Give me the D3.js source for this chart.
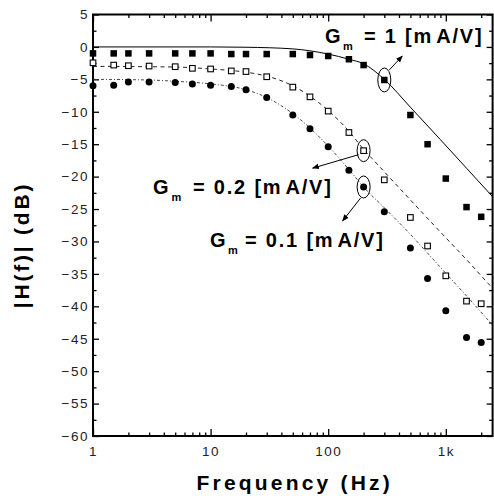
<!DOCTYPE html>
<html><head><meta charset="utf-8">
<script src="https://cdn.jsdelivr.net/npm/d3@7"></script>
<style>
html,body{margin:0;padding:0;background:#fff;}
svg{display:block;}
</style></head><body>
<svg id="c" width="494" height="499"></svg>
<script>
// ---- data ----
const freqs = [1,1.5,2,3,5,7,10,15,20,30,50,70,100,150,200,300,500,700,1000,1500,2000];
const gm1   = [-1.0,-1.0,-1.0,-1.0,-1.0,-1.0,-1.0,-1.1,-1.1,-1.1,-1.1,-1.25,-1.4,-1.9,-2.8,-5.1,-10.5,-15.0,-20.3,-24.7,-26.2];
const gm02  = [-2.45,-2.8,-2.9,-2.95,-3.05,-3.3,-3.4,-3.7,-3.8,-4.6,-6.2,-7.7,-9.9,-13.2,-16.0,-20.5,-26.3,-30.7,-35.3,-39.2,-39.6];
const gm01  = [-6.0,-5.9,-5.4,-5.4,-5.5,-5.7,-5.9,-6.1,-6.6,-7.8,-10.5,-12.6,-15.4,-19.0,-21.6,-25.4,-31.0,-35.7,-40.7,-44.8,-45.6];

const curveF1  = [1,10,20,50,70,100,150,200,300,500,900,1500,2500];
const curve1   = [0,0,-0.05,-0.3,-0.6,-1.1,-1.9,-2.6,-5.0,-9.3,-14.3,-18.7,-23.1];
const curveF02 = [1,5,10,20,30,50,70,100,150,200,250,500,950,1500,2300,2500];
const curve02  = [-3.0,-3.1,-3.4,-3.9,-4.5,-6.0,-7.6,-9.8,-13.0,-15.8,-17.7,-23.6,-29.0,-32.8,-36.5,-37.2];
const curveF01 = [1,3,5,10,20,30,50,70,100,150,200,300,500,700,1000,1500,2500];
const curve01  = [-5.0,-5.1,-5.3,-5.7,-6.6,-7.8,-10.3,-12.5,-15.3,-18.9,-21.6,-24.8,-28.9,-31.8,-34.9,-38.4,-42.9];

const yTickValues = [5,0,-5,-10,-15,-20,-25,-30,-35,-40,-45,-50,-55,-60];
const yMinorTicks = [2.5,-2.5,-7.5,-12.5,-17.5,-22.5,-27.5,-32.5,-37.5,-42.5,-47.5,-52.5,-57.5];
const xTickValues = [1,10,100,1000];
const xTickLabels = ["1","10","100","1k"];
const xMinorTicks = [2,3,4,5,6,7,8,9,20,30,40,50,60,70,80,90,200,300,400,500,600,700,800,900,2000];

const gmValues = ["1","0.2","0.1"];

// ---- layout ----
const svg = d3.select("#c");
const L = 93, R = 492.6, T = 14.5, B = 436;
const x = d3.scaleLog().domain([1,2500]).range([L,R]);
const y = d3.scaleLinear().domain([-60,5]).range([B,T]);
const FONT = "Arial, 'Liberation Sans', sans-serif";

svg.append("defs").append("clipPath").attr("id","clip")
  .append("rect").attr("x",L).attr("y",T).attr("width",R-L).attr("height",B-T);
const arrowDef = svg.select("defs").append("marker").attr("id","ah")
  .attr("viewBox","0 0 10 10").attr("refX",9).attr("refY",5)
  .attr("markerWidth",7).attr("markerHeight",7).attr("orient","auto")
  .attr("markerUnits","userSpaceOnUse");
arrowDef.append("path").attr("d","M0,1 L10,5 L0,9 Z").attr("fill","#000");

// axes
function styleAxis(g){
  g.select(".domain").remove();
  g.selectAll(".tick line").attr("stroke","#000").attr("stroke-width",1.3);
  g.selectAll(".tick text").attr("font-family",FONT).attr("font-size",13.5)
    .attr("letter-spacing",1.5).attr("fill","#222");
}
svg.append("g").attr("transform",`translate(${L},0)`)
  .call(d3.axisLeft(y).tickValues(yTickValues).tickSizeInner(-6).tickSizeOuter(0).tickPadding(4).tickFormat(d3.format("d")))
  .call(styleAxis);
svg.selectAll("g").filter(function(){return true;});
svg.append("g").attr("transform",`translate(${L},0)`)
  .call(d3.axisLeft(y).tickValues(yMinorTicks).tickSizeInner(-3.5).tickSizeOuter(0).tickFormat(""))
  .call(styleAxis);
svg.append("g").attr("transform",`translate(${R},0)`)
  .call(d3.axisRight(y).tickValues(yTickValues).tickSizeInner(-6).tickSizeOuter(0).tickFormat(""))
  .call(styleAxis);
svg.append("g").attr("transform",`translate(${R},0)`)
  .call(d3.axisRight(y).tickValues(yMinorTicks).tickSizeInner(-3.5).tickSizeOuter(0).tickFormat(""))
  .call(styleAxis);
svg.append("g").attr("transform",`translate(0,${B})`)
  .call(d3.axisBottom(x).tickValues(xTickValues).tickSizeInner(-7).tickSizeOuter(0).tickPadding(10.5)
    .tickFormat((d,i)=>xTickLabels[i]))
  .call(styleAxis);
svg.append("g").attr("transform",`translate(0,${B})`)
  .call(d3.axisBottom(x).tickValues(xMinorTicks).tickSizeInner(-3.5).tickSizeOuter(0).tickFormat(""))
  .call(styleAxis);
svg.append("g").attr("transform",`translate(0,${T})`)
  .call(d3.axisTop(x).tickValues(xTickValues).tickSizeInner(-7).tickSizeOuter(0).tickFormat(""))
  .call(styleAxis);
svg.append("g").attr("transform",`translate(0,${T})`)
  .call(d3.axisTop(x).tickValues(xMinorTicks).tickSizeInner(-3.5).tickSizeOuter(0).tickFormat(""))
  .call(styleAxis);

// frame
svg.append("rect").attr("x",L).attr("y",T).attr("width",R-L).attr("height",B-T)
  .attr("fill","none").attr("stroke","#000").attr("stroke-width",2);

// model curves
const plot = svg.append("g").attr("clip-path","url(#clip)");
const line = d3.line().x(d=>x(d[0])).y(d=>y(d[1])).curve(d3.curveMonotoneX);
plot.append("path").datum(d3.zip(curveF1,curve1)).attr("d",line)
  .attr("fill","none").attr("stroke","#000").attr("stroke-width",1);
plot.append("path").datum(d3.zip(curveF02,curve02)).attr("d",line)
  .attr("fill","none").attr("stroke","#222").attr("stroke-width",1).attr("stroke-dasharray","4,3.5");
plot.append("path").datum(d3.zip(curveF01,curve01)).attr("d",line)
  .attr("fill","none").attr("stroke","#333").attr("stroke-width",0.9).attr("stroke-dasharray","3,2,1,2");

// measured points
const s1 = 6.5, s2 = 5.6;
svg.append("g").selectAll("rect").data(d3.zip(freqs,gm1)).join("rect")
  .attr("x",d=>x(d[0])-s1/2).attr("y",d=>y(d[1])-s1/2).attr("width",s1).attr("height",s1)
  .attr("fill","#000");
svg.append("g").selectAll("rect").data(d3.zip(freqs,gm02)).join("rect")
  .attr("x",d=>x(d[0])-s2/2).attr("y",d=>y(d[1])-s2/2).attr("width",s2).attr("height",s2)
  .attr("fill","#fff").attr("stroke","#000").attr("stroke-width",1.1);
svg.append("g").selectAll("circle").data(d3.zip(freqs,gm01)).join("circle")
  .attr("cx",d=>x(d[0])).attr("cy",d=>y(d[1])).attr("r",3.5).attr("fill","#000");

// ellipses + arrows (around chosen measured points)
const callouts = [
  {f:300, v:gm1[freqs.indexOf(300)],  ry:12, a:[5,-10,18,-24]},
  {f:200, v:gm02[freqs.indexOf(200)], ry:11, a:[-5,4,-51,17.5]},
  {f:200, v:gm01[freqs.indexOf(200)], ry:11, a:[-3,11,-21,34]}
];
callouts.forEach(c=>{
  const cx = x(c.f), cy = y(c.v);
  svg.append("ellipse").attr("cx",cx).attr("cy",cy).attr("rx",6.5).attr("ry",c.ry)
    .attr("fill","none").attr("stroke","#000").attr("stroke-width",1);
  svg.append("line").attr("x1",cx+c.a[0]).attr("y1",cy+c.a[1]).attr("x2",cx+c.a[2]).attr("y2",cy+c.a[3])
    .attr("stroke","#000").attr("stroke-width",1).attr("marker-end","url(#ah)");
});

// labels
const labelPos = [
  {gx:325, gy:43, mx:343, eqx:364},
  {gx:153, gy:194, mx:171.5, eqx:193},
  {gx:210, gy:247, mx:228, eqx:245}
];
labelPos.forEach((p,i)=>{
  const g = svg.append("g").attr("font-family",FONT).attr("font-weight","bold").attr("fill","#000");
  g.append("text").attr("x",p.gx).attr("y",p.gy).attr("font-size",20).text("G");
  g.append("text").attr("x",p.mx).attr("y",p.gy+7).attr("font-size",11).text("m");
  const t = g.append("text").attr("x",p.eqx).attr("y",p.gy).attr("font-size",20).attr("letter-spacing",1.8);
  t.append("tspan").text(`= ${gmValues[i]} [m`);
  t.append("tspan").attr("dx",3).text("A/V]");
});

// axis titles
svg.append("text").attr("x",196.5).attr("y",490).attr("font-family",FONT).attr("font-weight","bold")
  .attr("font-size",21).attr("letter-spacing",3.2).text("Frequency (Hz)");
svg.append("text").attr("transform","translate(29,245) rotate(-90)").attr("text-anchor","middle")
  .attr("font-family",FONT).attr("font-weight","bold").attr("font-size",21).attr("letter-spacing",2.8)
  .text("|H(f)| (dB)");
</script>
</body></html>
